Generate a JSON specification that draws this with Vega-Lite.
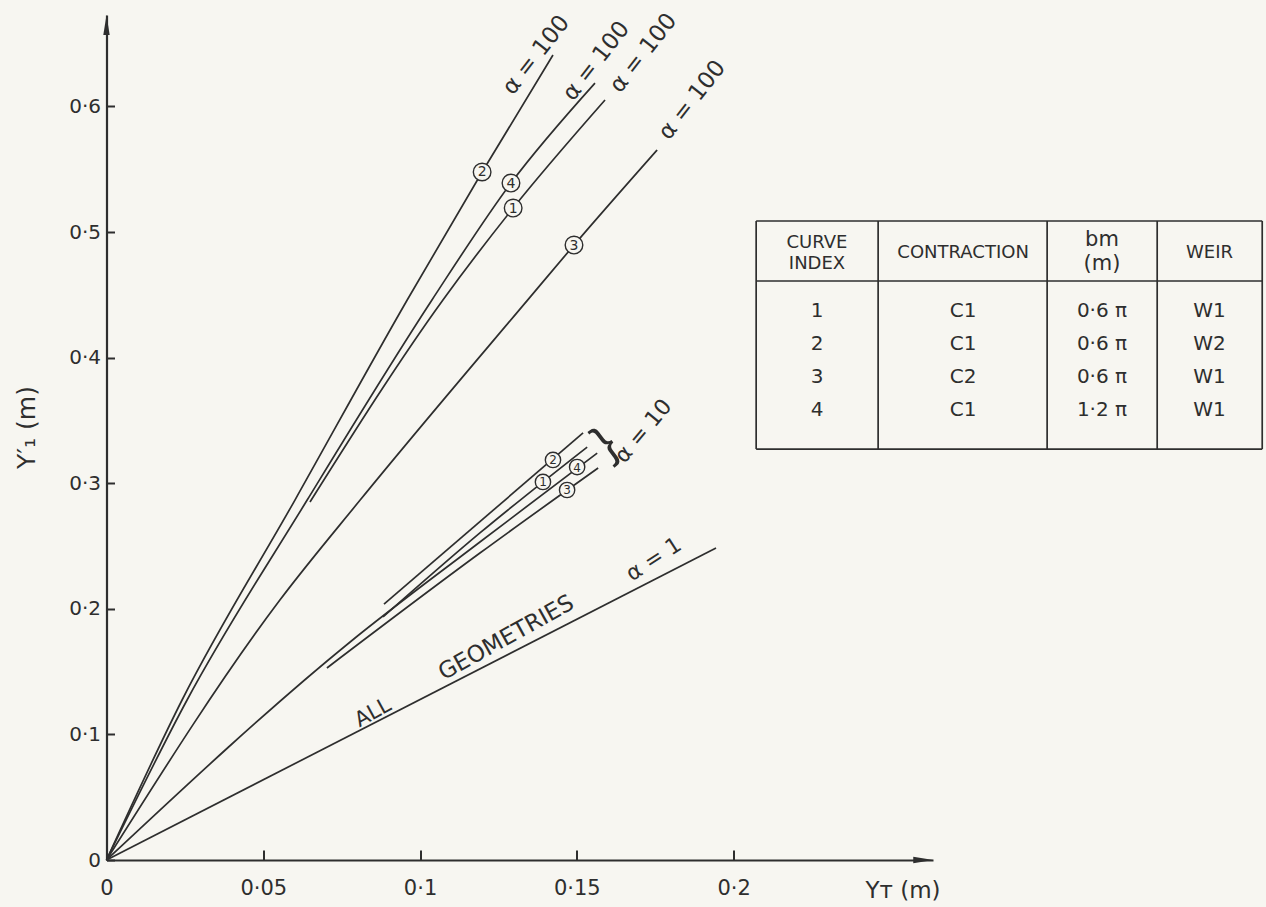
{
  "$schema": "https://vega.github.io/schema/vega-lite/v6.json",
  "width": 826.5,
  "height": 845,
  "autosize": {"type": "none"},
  "padding": {"left": 106.5, "top": 15, "right": 333, "bottom": 47},
  "background": "#f7f6f1",
  "config": {"view": {"stroke": null}, "font": "DejaVu Sans"},
  "datasets": {
    "curves": [
      {"id": "a100-2", "i": 0, "x": 0, "y": 0},
      {"id": "a100-2", "i": 1, "x": 0.0241, "y": 0.1274},
      {"id": "a100-2", "i": 2, "x": 0.0601, "y": 0.2866},
      {"id": "a100-2", "i": 3, "x": 0.0959, "y": 0.4459},
      {"id": "a100-2", "i": 4, "x": 0.1198, "y": 0.5478},
      {"id": "a100-2", "i": 5, "x": 0.1424, "y": 0.6409},
      {"id": "a100-4", "i": 0, "x": 0, "y": 0},
      {"id": "a100-4", "i": 1, "x": 0.0257, "y": 0.1274},
      {"id": "a100-4", "i": 2, "x": 0.064, "y": 0.2866},
      {"id": "a100-4", "i": 3, "x": 0.1038, "y": 0.4459},
      {"id": "a100-4", "i": 4, "x": 0.129, "y": 0.539},
      {"id": "a100-4", "i": 5, "x": 0.1558, "y": 0.6186},
      {"id": "a100-1", "i": 0, "x": 0.0649, "y": 0.285},
      {"id": "a100-1", "i": 1, "x": 0.1073, "y": 0.4459},
      {"id": "a100-1", "i": 2, "x": 0.1297, "y": 0.5191},
      {"id": "a100-1", "i": 3, "x": 0.159, "y": 0.6051},
      {"id": "a100-3", "i": 0, "x": 0, "y": 0},
      {"id": "a100-3", "i": 2, "x": 0.0553, "y": 0.207},
      {"id": "a100-3", "i": 3, "x": 0.0809, "y": 0.2866},
      {"id": "a100-3", "i": 4, "x": 0.1351, "y": 0.4482},
      {"id": "a100-3", "i": 5, "x": 0.1491, "y": 0.4896},
      {"id": "a100-3", "i": 6, "x": 0.1756, "y": 0.5653},
      {"id": "a10-2", "i": 0, "x": 0.0885, "y": 0.2038},
      {"id": "a10-2", "i": 1, "x": 0.152, "y": 0.34},
      {"id": "a10-1", "i": 0, "x": 0.0882, "y": 0.1935},
      {"id": "a10-1", "i": 1, "x": 0.1191, "y": 0.2604},
      {"id": "a10-1", "i": 2, "x": 0.1533, "y": 0.3288},
      {"id": "a10-4", "i": 0, "x": 0, "y": 0},
      {"id": "a10-4", "i": 1, "x": 0.0777, "y": 0.1736},
      {"id": "a10-4", "i": 2, "x": 0.1191, "y": 0.2532},
      {"id": "a10-4", "i": 3, "x": 0.1565, "y": 0.324},
      {"id": "a10-3", "i": 0, "x": 0.0703, "y": 0.1529},
      {"id": "a10-3", "i": 1, "x": 0.1191, "y": 0.2444},
      {"id": "a10-3", "i": 2, "x": 0.1568, "y": 0.3121},
      {"id": "a1", "i": 0, "x": 0, "y": 0},
      {"id": "a1", "i": 1, "x": 0.1944, "y": 0.2484}
    ],
    "circles": [
      {"n": "2", "g": "a100", "x": 0.1198, "y": 0.5478},
      {"n": "4", "g": "a100", "x": 0.129, "y": 0.539},
      {"n": "1", "g": "a100", "x": 0.1297, "y": 0.5191},
      {"n": "3", "g": "a100", "x": 0.1491, "y": 0.4896},
      {"n": "2", "g": "a10", "x": 0.1424, "y": 0.3185},
      {"n": "1", "g": "a10", "x": 0.1392, "y": 0.301},
      {"n": "4", "g": "a10", "x": 0.1501, "y": 0.3129},
      {"n": "3", "g": "a10", "x": 0.1469, "y": 0.2946}
    ],
    "lab100": [
      {"t": "α = 100", "x": 0.137, "y": 0.6409},
      {"t": "α = 100", "x": 0.1562, "y": 0.6361},
      {"t": "α = 100", "x": 0.1712, "y": 0.6425},
      {"t": "α = 100", "x": 0.1868, "y": 0.6051}
    ],
    "grid": [
      {"x": 0.2072, "x2": 0.3686, "y": 0.5088, "y2": 0.5088},
      {"x": 0.2072, "x2": 0.3686, "y": 0.461, "y2": 0.461},
      {"x": 0.2072, "x2": 0.3686, "y": 0.3272, "y2": 0.3272},
      {"x": 0.2072, "x2": 0.2072, "y": 0.3272, "y2": 0.5088},
      {"x": 0.2461, "x2": 0.2461, "y": 0.3272, "y2": 0.5088},
      {"x": 0.3, "x2": 0.3, "y": 0.3272, "y2": 0.5088},
      {"x": 0.3351, "x2": 0.3351, "y": 0.3272, "y2": 0.5088},
      {"x": 0.3686, "x2": 0.3686, "y": 0.3272, "y2": 0.5088}
    ],
    "header": [
      {"t": "CURVE", "x": 0.2266, "y": 0.4912},
      {"t": "INDEX", "x": 0.2266, "y": 0.4745},
      {"t": "CONTRACTION", "x": 0.2732, "y": 0.4833},
      {"t": "WEIR", "x": 0.3518, "y": 0.4833}
    ],
    "header2": [
      {"t": "bm", "x": 0.3175, "y": 0.4936},
      {"t": "(m)", "x": 0.3175, "y": 0.4745}
    ],
    "table": [
      {"idx": "1", "con": "C1", "bm": "0·6 π", "weir": "W1", "y": 0.4371},
      {"idx": "2", "con": "C1", "bm": "0·6 π", "weir": "W2", "y": 0.4108},
      {"idx": "3", "con": "C2", "bm": "0·6 π", "weir": "W1", "y": 0.3846},
      {"idx": "4", "con": "C1", "bm": "1·2 π", "weir": "W1", "y": 0.3583}
    ]
  },
  "layer": [
    {
      "data": {"name": "curves"},
      "mark": {"type": "line", "interpolate": "monotone", "strokeWidth": 1.7, "color": "#2e2e2e"},
      "encoding": {
        "x": {"field": "x", "type": "quantitative", "scale": {"domain": [0, 0.2636], "nice": false, "zero": false},
          "axis": {"values": [0, 0.05, 0.1, 0.15, 0.2], "labelExpr": "replace(toString(datum.value), '.', '·')", "grid": false,
            "domainColor": "#2e2e2e", "domainWidth": 2.2, "tickColor": "#2e2e2e", "tickWidth": 2, "tickSize": -10,
            "labelPadding": 27, "labelFontSize": 21, "labelColor": "#2e2e2e", "labelFont": "DejaVu Sans", "labelFlush": false, "labelOverlap": false,
            "title": "Yᴛ (m)", "titleX": 796, "titleY": 30, "titleAlign": "center", "titleBaseline": "middle", "titleFontSize": 23,
            "titleFontWeight": "normal", "titleColor": "#2e2e2e", "titleFont": "DejaVu Sans"}},
        "y": {"field": "y", "type": "quantitative", "scale": {"domain": [0, 0.6728], "nice": false, "zero": false},
          "axis": {"values": [0, 0.1, 0.2, 0.3, 0.4, 0.5, 0.6], "labelExpr": "replace(toString(datum.value), '.', '·')", "grid": false,
            "domainColor": "#2e2e2e", "domainWidth": 2.2, "tickColor": "#2e2e2e", "tickWidth": 2, "tickSize": -8,
            "labelPadding": 14, "labelFontSize": 20, "labelColor": "#2e2e2e", "labelFont": "DejaVu Sans", "labelFlush": false, "labelOverlap": false,
            "title": "Y′₁ (m)", "titleX": -80, "titleY": 412, "titleAngle": -90, "titleAlign": "center", "titleBaseline": "middle", "titleFontSize": 25,
            "titleFontWeight": "normal", "titleColor": "#2e2e2e", "titleFont": "DejaVu Sans"}},
        "detail": {"field": "id"},
        "order": {"field": "i"}
      }
    },
    {
      "data": {"values": [{}]},
      "mark": {"type": "point", "shape": "M0,-1L0.32,1L-0.32,1Z", "size": 400, "filled": true, "color": "#2e2e2e", "opacity": 1},
      "encoding": {
        "x": {"datum": 0, "type": "quantitative", "scale": {"domain": [0, 0.2636], "nice": false, "zero": false}},
        "y": {"datum": 0.6648, "type": "quantitative", "scale": {"domain": [0, 0.6728], "nice": false, "zero": false}}
      }
    },
    {
      "data": {"values": [{}]},
      "mark": {"type": "point", "shape": "M1,0L-1,0.32L-1,-0.32Z", "size": 400, "filled": true, "color": "#2e2e2e", "opacity": 1},
      "encoding": {
        "x": {"datum": 0.2605, "type": "quantitative", "scale": {"domain": [0, 0.2636], "nice": false, "zero": false}},
        "y": {"datum": 0, "type": "quantitative", "scale": {"domain": [0, 0.6728], "nice": false, "zero": false}}
      }
    },
    {
      "data": {"name": "circles"},
      "transform": [{"filter": "datum.g == 'a100'"}],
      "mark": {"type": "point", "shape": "circle", "size": 310, "filled": true, "fill": "#f7f6f1", "stroke": "#2e2e2e", "strokeWidth": 1.4, "opacity": 1},
      "encoding": {
        "x": {"field": "x", "type": "quantitative", "scale": {"domain": [0, 0.2636], "nice": false, "zero": false}},
        "y": {"field": "y", "type": "quantitative", "scale": {"domain": [0, 0.6728], "nice": false, "zero": false}}
      }
    },
    {
      "data": {"name": "circles"},
      "transform": [{"filter": "datum.g == 'a10'"}],
      "mark": {"type": "point", "shape": "circle", "size": 235, "filled": true, "fill": "#f7f6f1", "stroke": "#2e2e2e", "strokeWidth": 1.4, "opacity": 1},
      "encoding": {
        "x": {"field": "x", "type": "quantitative", "scale": {"domain": [0, 0.2636], "nice": false, "zero": false}},
        "y": {"field": "y", "type": "quantitative", "scale": {"domain": [0, 0.6728], "nice": false, "zero": false}}
      }
    },
    {
      "data": {"name": "circles"},
      "transform": [{"filter": "datum.g == 'a100'"}],
      "mark": {"type": "text", "color": "#2e2e2e", "font": "DejaVu Sans", "fontSize": 14, "baseline": "middle", "align": "center", "dy": 0.5},
      "encoding": {
        "x": {"field": "x", "type": "quantitative", "scale": {"domain": [0, 0.2636], "nice": false, "zero": false}},
        "y": {"field": "y", "type": "quantitative", "scale": {"domain": [0, 0.6728], "nice": false, "zero": false}},
        "text": {"field": "n"}
      }
    },
    {
      "data": {"name": "circles"},
      "transform": [{"filter": "datum.g == 'a10'"}],
      "mark": {"type": "text", "color": "#2e2e2e", "font": "DejaVu Sans", "fontSize": 12, "baseline": "middle", "align": "center", "dy": 0.5},
      "encoding": {
        "x": {"field": "x", "type": "quantitative", "scale": {"domain": [0, 0.2636], "nice": false, "zero": false}},
        "y": {"field": "y", "type": "quantitative", "scale": {"domain": [0, 0.6728], "nice": false, "zero": false}},
        "text": {"field": "n"}
      }
    },
    {
      "data": {"name": "lab100"},
      "mark": {"type": "text", "color": "#2e2e2e", "font": "DejaVu Sans", "fontSize": 23, "angle": -52, "baseline": "middle", "align": "center"},
      "encoding": {
        "x": {"field": "x", "type": "quantitative", "scale": {"domain": [0, 0.2636], "nice": false, "zero": false}},
        "y": {"field": "y", "type": "quantitative", "scale": {"domain": [0, 0.6728], "nice": false, "zero": false}},
        "text": {"field": "t"}
      }
    },
    {
      "data": {"values": [{"t": "α = 10"}]},
      "mark": {"type": "text", "color": "#2e2e2e", "font": "DejaVu Sans", "fontSize": 22, "angle": -50, "baseline": "middle", "align": "center"},
      "encoding": {
        "x": {"datum": 0.1712, "type": "quantitative", "scale": {"domain": [0, 0.2636], "nice": false, "zero": false}},
        "y": {"datum": 0.3415, "type": "quantitative", "scale": {"domain": [0, 0.6728], "nice": false, "zero": false}},
        "text": {"field": "t"}
      }
    },
    {
      "data": {"values": [{"t": "}"}]},
      "mark": {"type": "text", "color": "#2e2e2e", "font": "Liberation Sans", "fontSize": 48, "angle": -37, "baseline": "middle", "align": "center"},
      "encoding": {
        "x": {"datum": 0.1592, "type": "quantitative", "scale": {"domain": [0, 0.2636], "nice": false, "zero": false}},
        "y": {"datum": 0.331, "type": "quantitative", "scale": {"domain": [0, 0.6728], "nice": false, "zero": false}},
        "text": {"field": "t"}
      }
    },
    {
      "data": {"values": [{"t": "α = 1"}]},
      "mark": {"type": "text", "color": "#2e2e2e", "font": "DejaVu Sans", "fontSize": 22, "angle": -33, "baseline": "middle", "align": "center"},
      "encoding": {
        "x": {"datum": 0.1745, "type": "quantitative", "scale": {"domain": [0, 0.2636], "nice": false, "zero": false}},
        "y": {"datum": 0.2395, "type": "quantitative", "scale": {"domain": [0, 0.6728], "nice": false, "zero": false}},
        "text": {"field": "t"}
      }
    },
    {
      "data": {"values": [{"t": "ALL"}]},
      "mark": {"type": "text", "color": "#2e2e2e", "font": "DejaVu Sans", "fontSize": 21, "angle": -29, "baseline": "middle", "align": "center"},
      "encoding": {
        "x": {"datum": 0.085, "type": "quantitative", "scale": {"domain": [0, 0.2636], "nice": false, "zero": false}},
        "y": {"datum": 0.117, "type": "quantitative", "scale": {"domain": [0, 0.6728], "nice": false, "zero": false}},
        "text": {"field": "t"}
      }
    },
    {
      "data": {"values": [{"t": "GEOMETRIES"}]},
      "mark": {"type": "text", "color": "#2e2e2e", "font": "DejaVu Sans", "fontSize": 23, "angle": -29, "baseline": "middle", "align": "center"},
      "encoding": {
        "x": {"datum": 0.1275, "type": "quantitative", "scale": {"domain": [0, 0.2636], "nice": false, "zero": false}},
        "y": {"datum": 0.1768, "type": "quantitative", "scale": {"domain": [0, 0.6728], "nice": false, "zero": false}},
        "text": {"field": "t"}
      }
    },
    {
      "data": {"name": "grid"},
      "mark": {"type": "rule", "color": "#2e2e2e", "strokeWidth": 1.7},
      "encoding": {
        "x": {"field": "x", "type": "quantitative", "scale": {"domain": [0, 0.2636], "nice": false, "zero": false}},
        "x2": {"field": "x2"},
        "y": {"field": "y", "type": "quantitative", "scale": {"domain": [0, 0.6728], "nice": false, "zero": false}},
        "y2": {"field": "y2"}
      }
    },
    {
      "data": {"name": "header"},
      "mark": {"type": "text", "color": "#2e2e2e", "font": "DejaVu Sans", "fontSize": 18, "baseline": "middle", "align": "center"},
      "encoding": {
        "x": {"field": "x", "type": "quantitative", "scale": {"domain": [0, 0.2636], "nice": false, "zero": false}},
        "y": {"field": "y", "type": "quantitative", "scale": {"domain": [0, 0.6728], "nice": false, "zero": false}},
        "text": {"field": "t"}
      }
    },
    {
      "data": {"name": "header2"},
      "mark": {"type": "text", "color": "#2e2e2e", "font": "DejaVu Sans", "fontSize": 21, "baseline": "middle", "align": "center"},
      "encoding": {
        "x": {"field": "x", "type": "quantitative", "scale": {"domain": [0, 0.2636], "nice": false, "zero": false}},
        "y": {"field": "y", "type": "quantitative", "scale": {"domain": [0, 0.6728], "nice": false, "zero": false}},
        "text": {"field": "t"}
      }
    },
    {
      "data": {"name": "table"},
      "mark": {"type": "text", "color": "#2e2e2e", "font": "DejaVu Sans", "fontSize": 20, "baseline": "middle", "align": "center"},
      "encoding": {
        "x": {"datum": 0.2266, "type": "quantitative", "scale": {"domain": [0, 0.2636], "nice": false, "zero": false}},
        "y": {"field": "y", "type": "quantitative", "scale": {"domain": [0, 0.6728], "nice": false, "zero": false}},
        "text": {"field": "idx"}
      }
    },
    {
      "data": {"name": "table"},
      "mark": {"type": "text", "color": "#2e2e2e", "font": "DejaVu Sans", "fontSize": 20, "baseline": "middle", "align": "center"},
      "encoding": {
        "x": {"datum": 0.2732, "type": "quantitative", "scale": {"domain": [0, 0.2636], "nice": false, "zero": false}},
        "y": {"field": "y", "type": "quantitative", "scale": {"domain": [0, 0.6728], "nice": false, "zero": false}},
        "text": {"field": "con"}
      }
    },
    {
      "data": {"name": "table"},
      "mark": {"type": "text", "color": "#2e2e2e", "font": "DejaVu Sans", "fontSize": 20, "baseline": "middle", "align": "center"},
      "encoding": {
        "x": {"datum": 0.3175, "type": "quantitative", "scale": {"domain": [0, 0.2636], "nice": false, "zero": false}},
        "y": {"field": "y", "type": "quantitative", "scale": {"domain": [0, 0.6728], "nice": false, "zero": false}},
        "text": {"field": "bm"}
      }
    },
    {
      "data": {"name": "table"},
      "mark": {"type": "text", "color": "#2e2e2e", "font": "DejaVu Sans", "fontSize": 20, "baseline": "middle", "align": "center"},
      "encoding": {
        "x": {"datum": 0.3518, "type": "quantitative", "scale": {"domain": [0, 0.2636], "nice": false, "zero": false}},
        "y": {"field": "y", "type": "quantitative", "scale": {"domain": [0, 0.6728], "nice": false, "zero": false}},
        "text": {"field": "weir"}
      }
    }
  ]
}
